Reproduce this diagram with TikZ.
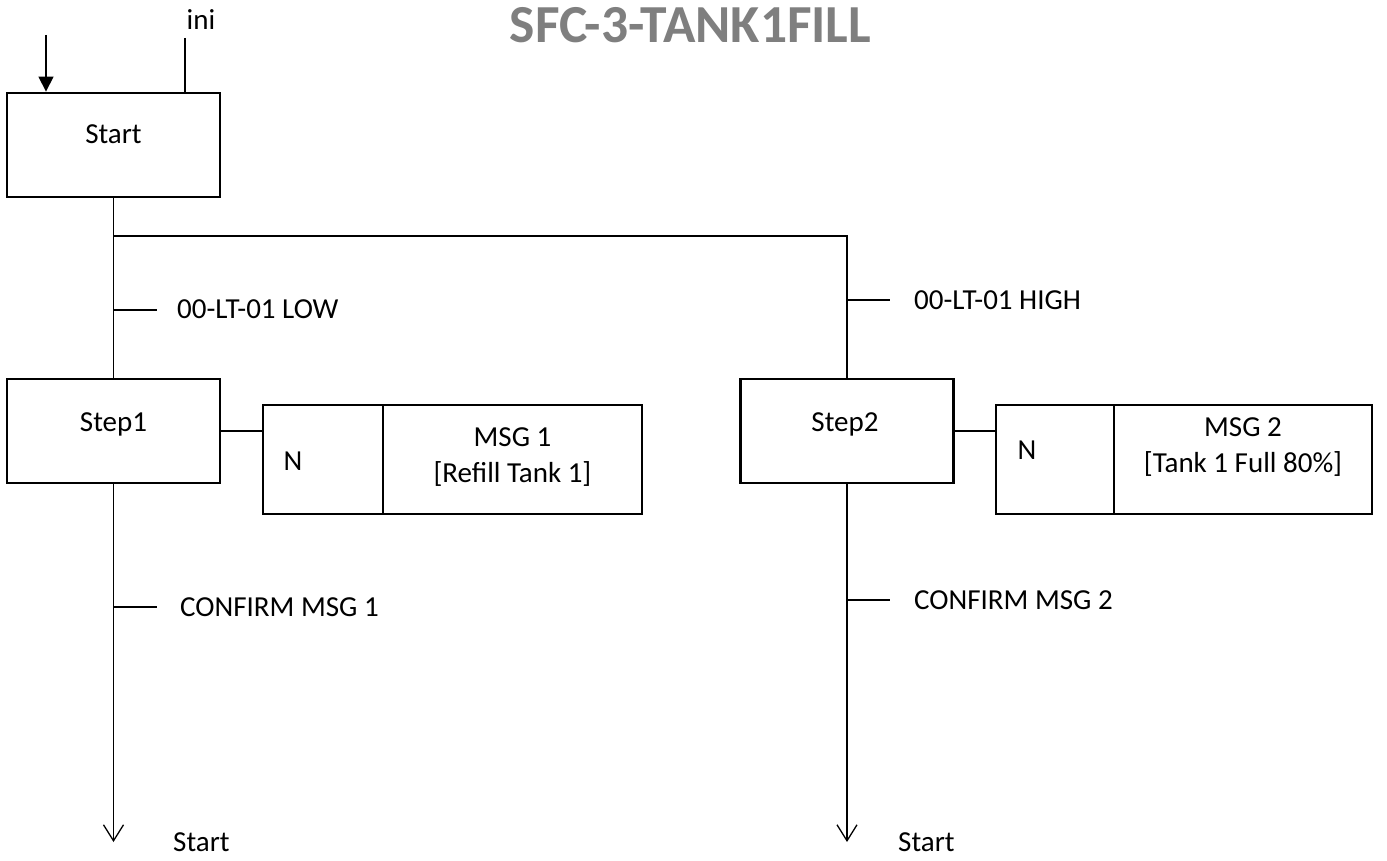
\documentclass[tikz,border=0pt]{standalone}
\usepackage{fontspec}
\setmainfont{Carlito}
\usetikzlibrary{arrows.meta}
\definecolor{titlegray}{HTML}{7F7F7F}
\begin{document}
\begin{tikzpicture}[x=1pt,y=-1pt,
  stepbox/.style={draw,line width=2.8pt,minimum width=213pt,minimum height=104pt,inner sep=0pt},
  actbox/.style={draw,line width=2.8pt,minimum height=109pt,inner sep=0pt},
  lbl/.style={font=\fontsize{29}{35}\selectfont,inner sep=0pt},
  conn/.style={line width=1.3pt},
  endarrow/.style={conn,-{Straight Barb[length=16pt,width=20pt,line width=1.3pt]}},
  inarrow/.style={conn,-{Triangle[length=15pt,width=15pt]}}]
\useasboundingbox (0,0) rectangle (1387,861);
% title
\node[font=\fontsize{53.5}{60}\selectfont\bfseries,text=titlegray,anchor=base,inner sep=0pt] (title) at (690.5,43) {SFC-3-TANK1FILL};
% steps
\node[stepbox] (start) at (113.5,145) {};
\node[stepbox] (step1) at (113.5,431) {};
\node[stepbox] (step2) at (847,431) {};
\node[lbl,anchor=base] (starttxt) at (113.5,144) {Start};
\node[lbl,anchor=base] (step1txt) at (113.5,431) {Step1};
\node[lbl,anchor=base] (step2txt) at (845,431) {Step2};
% action boxes
\node[actbox,minimum width=120pt] (n1) at (323,459.5) {};
\node[actbox,minimum width=259pt] (a1) at (512.5,459.5) {};
\node[actbox,minimum width=118pt] (n2) at (1055,459.5) {};
\node[actbox,minimum width=258pt] (a2) at (1243,459.5) {};
\node[lbl,anchor=base] (n1txt) at (293,470) {N};
\node[lbl,anchor=base] (n2txt) at (1027,459) {N};
\node[lbl,anchor=base] (a1t1) at (512.5,446) {MSG 1};
\node[lbl,anchor=base] (a1t2) at (512.5,482) {[Refill Tank 1]};
\node[lbl,anchor=base] (a2t1) at (1243,436) {MSG 2};
\node[lbl,anchor=base] (a2t2) at (1243,472) {[Tank 1 Full 80\%]};
% initial arrow and ini line
\coordinate (inarr) at (46,35);
\coordinate (initop) at (185,38);
\draw[inarrow] (inarr) -- (inarr |- start.north);
\draw[conn] (initop) -- (initop |- start.north);
\node[lbl,anchor=base] (initxt) at (201,30) {ini};
% main flow
\coordinate (branch) at (847,236);
\draw[conn] (start.south) -- (step1.north);
\draw[conn] (start.south |- branch) -- (branch) -- (step2.north);
% transitions
\coordinate (t1) at (113.5,310);
\coordinate (t2) at (847,300);
\coordinate (t3) at (113.5,607);
\coordinate (t4) at (847,600);
\draw[conn] (t1) -- ++(43,0);
\draw[conn] (t2) -- ++(43,0);
\draw[conn] (t3) -- ++(43,0);
\draw[conn] (t4) -- ++(43,0);
\node[lbl,anchor=base west] (t1txt) at (177,318) {00-LT-01 LOW};
\node[lbl,anchor=base west] (t2txt) at (914,309) {00-LT-01 HIGH};
\node[lbl,anchor=base west] (t3txt) at (180,616) {CONFIRM MSG 1};
\node[lbl,anchor=base west] (t4txt) at (914,609) {CONFIRM MSG 2};
% action connectors
\draw[conn] (step1.east) -- (step1.east -| n1.west);
\draw[conn] (step2.east) -- (step2.east -| n2.west);
% jumps back to Start
\coordinate (end1) at (113.5,842);
\coordinate (end2) at (847,842);
\draw[endarrow] (step1.south) -- (end1);
\draw[endarrow] (step2.south) -- (end2);
\node[lbl,anchor=base west] (j1txt) at (173,851) {Start};
\node[lbl,anchor=base west] (j2txt) at (898,851) {Start};
\end{tikzpicture}
\end{document}
